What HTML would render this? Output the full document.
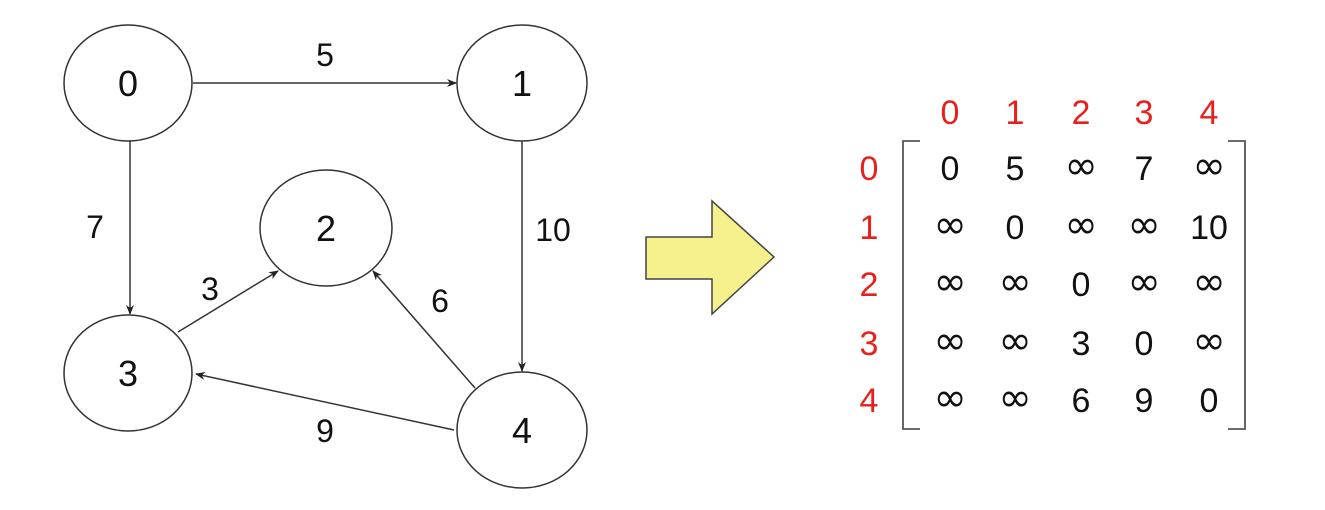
<!DOCTYPE html>
<html><head><meta charset="utf-8"><style>
html,body{margin:0;padding:0;background:#fff;width:1325px;height:510px;overflow:hidden}
svg text{font-family:"Liberation Sans","DejaVu Sans",sans-serif}
svg text.i{font-family:"DejaVu Sans",sans-serif;font-size:40px;font-weight:normal}
</style></head><body>
<svg width="1325" height="510" viewBox="0 0 1325 510" xmlns="http://www.w3.org/2000/svg">
<defs><marker id="a" markerWidth="10" markerHeight="10" refX="9" refY="5" orient="auto" markerUnits="userSpaceOnUse"><path d="M0,1 L10,5 L0,9 L3,5 z" fill="#222"/></marker></defs>
<g fill="#fff" stroke="#333" stroke-width="1.5">
<ellipse cx="128" cy="83" rx="64" ry="58"/>
<ellipse cx="522" cy="83" rx="65" ry="58"/>
<ellipse cx="326" cy="228" rx="66" ry="58"/>
<ellipse cx="128" cy="373" rx="64" ry="58"/>
<ellipse cx="522" cy="430" rx="65" ry="58"/>
</g>
<g stroke="#333" stroke-width="1.5" marker-end="url(#a)">
<line x1="193" y1="83" x2="456" y2="83"/>
<line x1="130" y1="141" x2="130" y2="314"/>
<line x1="522" y1="141" x2="522" y2="371"/>
<line x1="178" y1="332" x2="278" y2="271"/>
<line x1="475" y1="388" x2="373" y2="271"/>
<line x1="454" y1="430" x2="196" y2="374"/>
</g>
<g font-size="36" text-anchor="middle" fill="#111">
<text x="128" y="96">0</text><text x="522" y="96">1</text><text x="326" y="241">2</text><text x="128" y="386">3</text><text x="522" y="443">4</text>
</g>
<g font-size="32" text-anchor="middle" fill="#111">
<text x="325" y="66">5</text><text x="95" y="238">7</text><text x="553" y="241">10</text><text x="210" y="300">3</text><text x="440" y="312">6</text><text x="325" y="442">9</text>
</g>
<path d="M646,237 L712,237 L712,201 L774,257 L712,314 L712,279 L646,279 Z" fill="#f5ef8c" stroke="#444" stroke-width="1.5"/>
<g font-size="34" text-anchor="middle" fill="#e8201c">
<text x="950" y="124">0</text><text x="1015" y="124">1</text><text x="1081" y="124">2</text><text x="1144" y="124">3</text><text x="1209" y="124">4</text>
<text x="869" y="180">0</text><text x="869" y="239">1</text><text x="869" y="296">2</text><text x="869" y="355">3</text><text x="869" y="412">4</text>
</g>
<path d="M920,141 L903,141 L903,429 L920,429" fill="none" stroke="#555" stroke-width="1.8"/>
<path d="M1228,141 L1245,141 L1245,429 L1228,429" fill="none" stroke="#555" stroke-width="1.8"/>
<g font-size="34" text-anchor="middle" fill="#111">
<text x="950" y="180">0</text><text x="1015" y="180">5</text><text class="i" x="1081" y="179">∞</text><text x="1144" y="180">7</text><text class="i" x="1209" y="179">∞</text>
<text class="i" x="950" y="238">∞</text><text x="1015" y="239">0</text><text class="i" x="1081" y="238">∞</text><text class="i" x="1144" y="238">∞</text><text x="1209" y="239">10</text>
<text class="i" x="950" y="295">∞</text><text class="i" x="1015" y="295">∞</text><text x="1081" y="296">0</text><text class="i" x="1144" y="295">∞</text><text class="i" x="1209" y="295">∞</text>
<text class="i" x="950" y="354">∞</text><text class="i" x="1015" y="354">∞</text><text x="1081" y="355">3</text><text x="1144" y="355">0</text><text class="i" x="1209" y="354">∞</text>
<text class="i" x="950" y="411">∞</text><text class="i" x="1015" y="411">∞</text><text x="1081" y="412">6</text><text x="1144" y="412">9</text><text x="1209" y="412">0</text>
</g>
</svg>
</body></html>
